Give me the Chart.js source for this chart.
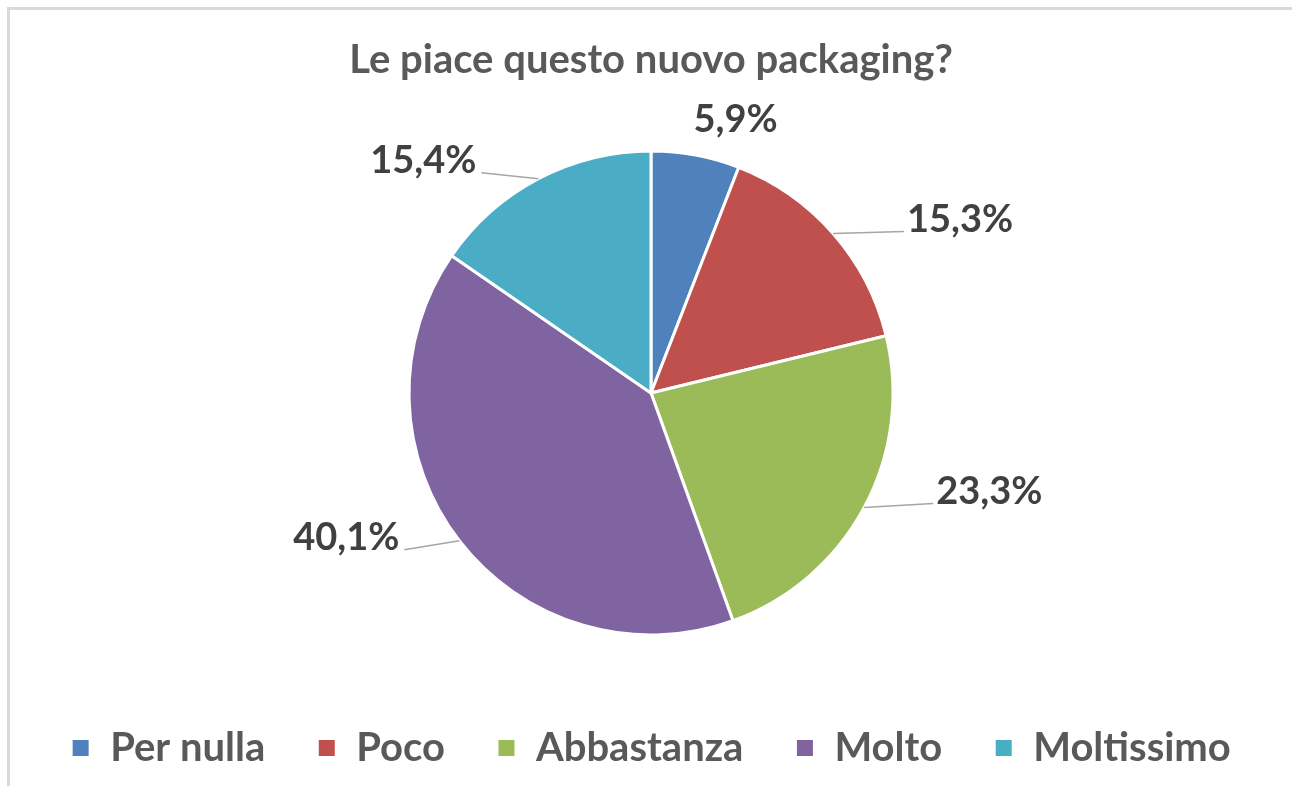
<!DOCTYPE html>
<html lang="it">
<head>
<meta charset="utf-8">
<title>Le piace questo nuovo packaging?</title>
<script src="https://cdn.jsdelivr.net/npm/chart.js@4.4.1/dist/chart.umd.min.js"></script>
<style>
  html, body { margin: 0; padding: 0; background: #fff; overflow: hidden; }
  .frame {
    position: absolute; left: 7px; top: 7px; width: 1400px; height: 900px;
    border-top: 3px solid #d9d9d9; border-left: 3px solid #d9d9d9;
  }
  .chart-box { position: absolute; left: 0; top: 0; width: 1292px; height: 786px; }
</style>
</head>
<body>
<div class="frame"></div>
<div class="chart-box"><canvas id="pieChart"></canvas></div>
<script>
// answers to the packaging question
const categories = ["Per nulla", "Poco", "Abbastanza", "Molto", "Moltissimo"];
const shares = [5.9, 15.3, 23.3, 40.1, 15.4];
const sliceColors = ["#4F81BD", "#C0504D", "#9BBB59", "#8064A2", "#4BACC6"];

const FONT = "Lato, 'Open Sans', sans-serif";

// where each percentage sits, relative to the slice's outer edge point
const labelPlacement = [
  { dx: 40, dy: -35, align: "center", leader: false },
  { dx: 74, dy: -14, align: "left", leader: true },
  { dx: 72, dy: -16, align: "left", leader: true },
  { dx: -60, dy: -3, align: "right", leader: true },
  { dx: -62, dy: -18, align: "right", leader: true },
];

const formatPct = (v) => v.toFixed(1).replace(".", ",") + "%";

const pieLabels = {
  id: "pieLabels",
  afterDatasetsDraw(chart) {
    const ctx = chart.ctx;
    const meta = chart.getDatasetMeta(0);
    ctx.save();
    ctx.font = "bold 38px " + FONT;
    ctx.fillStyle = "#404040";
    ctx.textBaseline = "middle";
    meta.data.forEach((arc, i) => {
      const p = arc.getProps(["x", "y", "startAngle", "endAngle", "outerRadius"], true);
      const mid = (p.startAngle + p.endAngle) / 2;
      const ex = p.x + Math.cos(mid) * p.outerRadius;
      const ey = p.y + Math.sin(mid) * p.outerRadius;
      const place = labelPlacement[i];
      const tx = ex + place.dx;
      const ty = ey + place.dy;
      if (place.leader) {
        const side = place.align === "left" ? -3 : 5;
        ctx.beginPath();
        ctx.strokeStyle = "#a6a6a6";
        ctx.lineWidth = 1.5;
        ctx.moveTo(ex, ey);
        ctx.lineTo(tx + side, ty + 12);
        ctx.stroke();
      }
      ctx.textAlign = place.align;
      ctx.fillText(formatPct(shares[i]), tx, ty);
    });
    ctx.restore();
  },
};

new Chart(document.getElementById("pieChart"), {
  type: "pie",
  data: {
    labels: categories,
    datasets: [
      {
        data: shares,
        backgroundColor: sliceColors,
        borderColor: "#ffffff",
        borderWidth: 3,
        radius: 242,
      },
    ],
  },
  options: {
    responsive: true,
    maintainAspectRatio: false,
    animation: false,
    events: [],
    layout: { padding: { left: 10, right: 0, top: 0, bottom: 8 } },
    plugins: {
      title: {
        display: true,
        text: "Le piace questo nuovo packaging?",
        color: "#595959",
        font: { family: FONT, size: 40, weight: "bold" },
        padding: { top: 36, bottom: 26 },
      },
      legend: {
        position: "bottom",
        labels: {
          color: "#595959",
          font: { family: FONT, size: 40, weight: "bold" },
          boxWidth: 19,
          boxHeight: 19,
          padding: 52,
        },
      },
      tooltip: { enabled: false },
    },
  },
  plugins: [pieLabels],
});
</script>
</body>
</html>
